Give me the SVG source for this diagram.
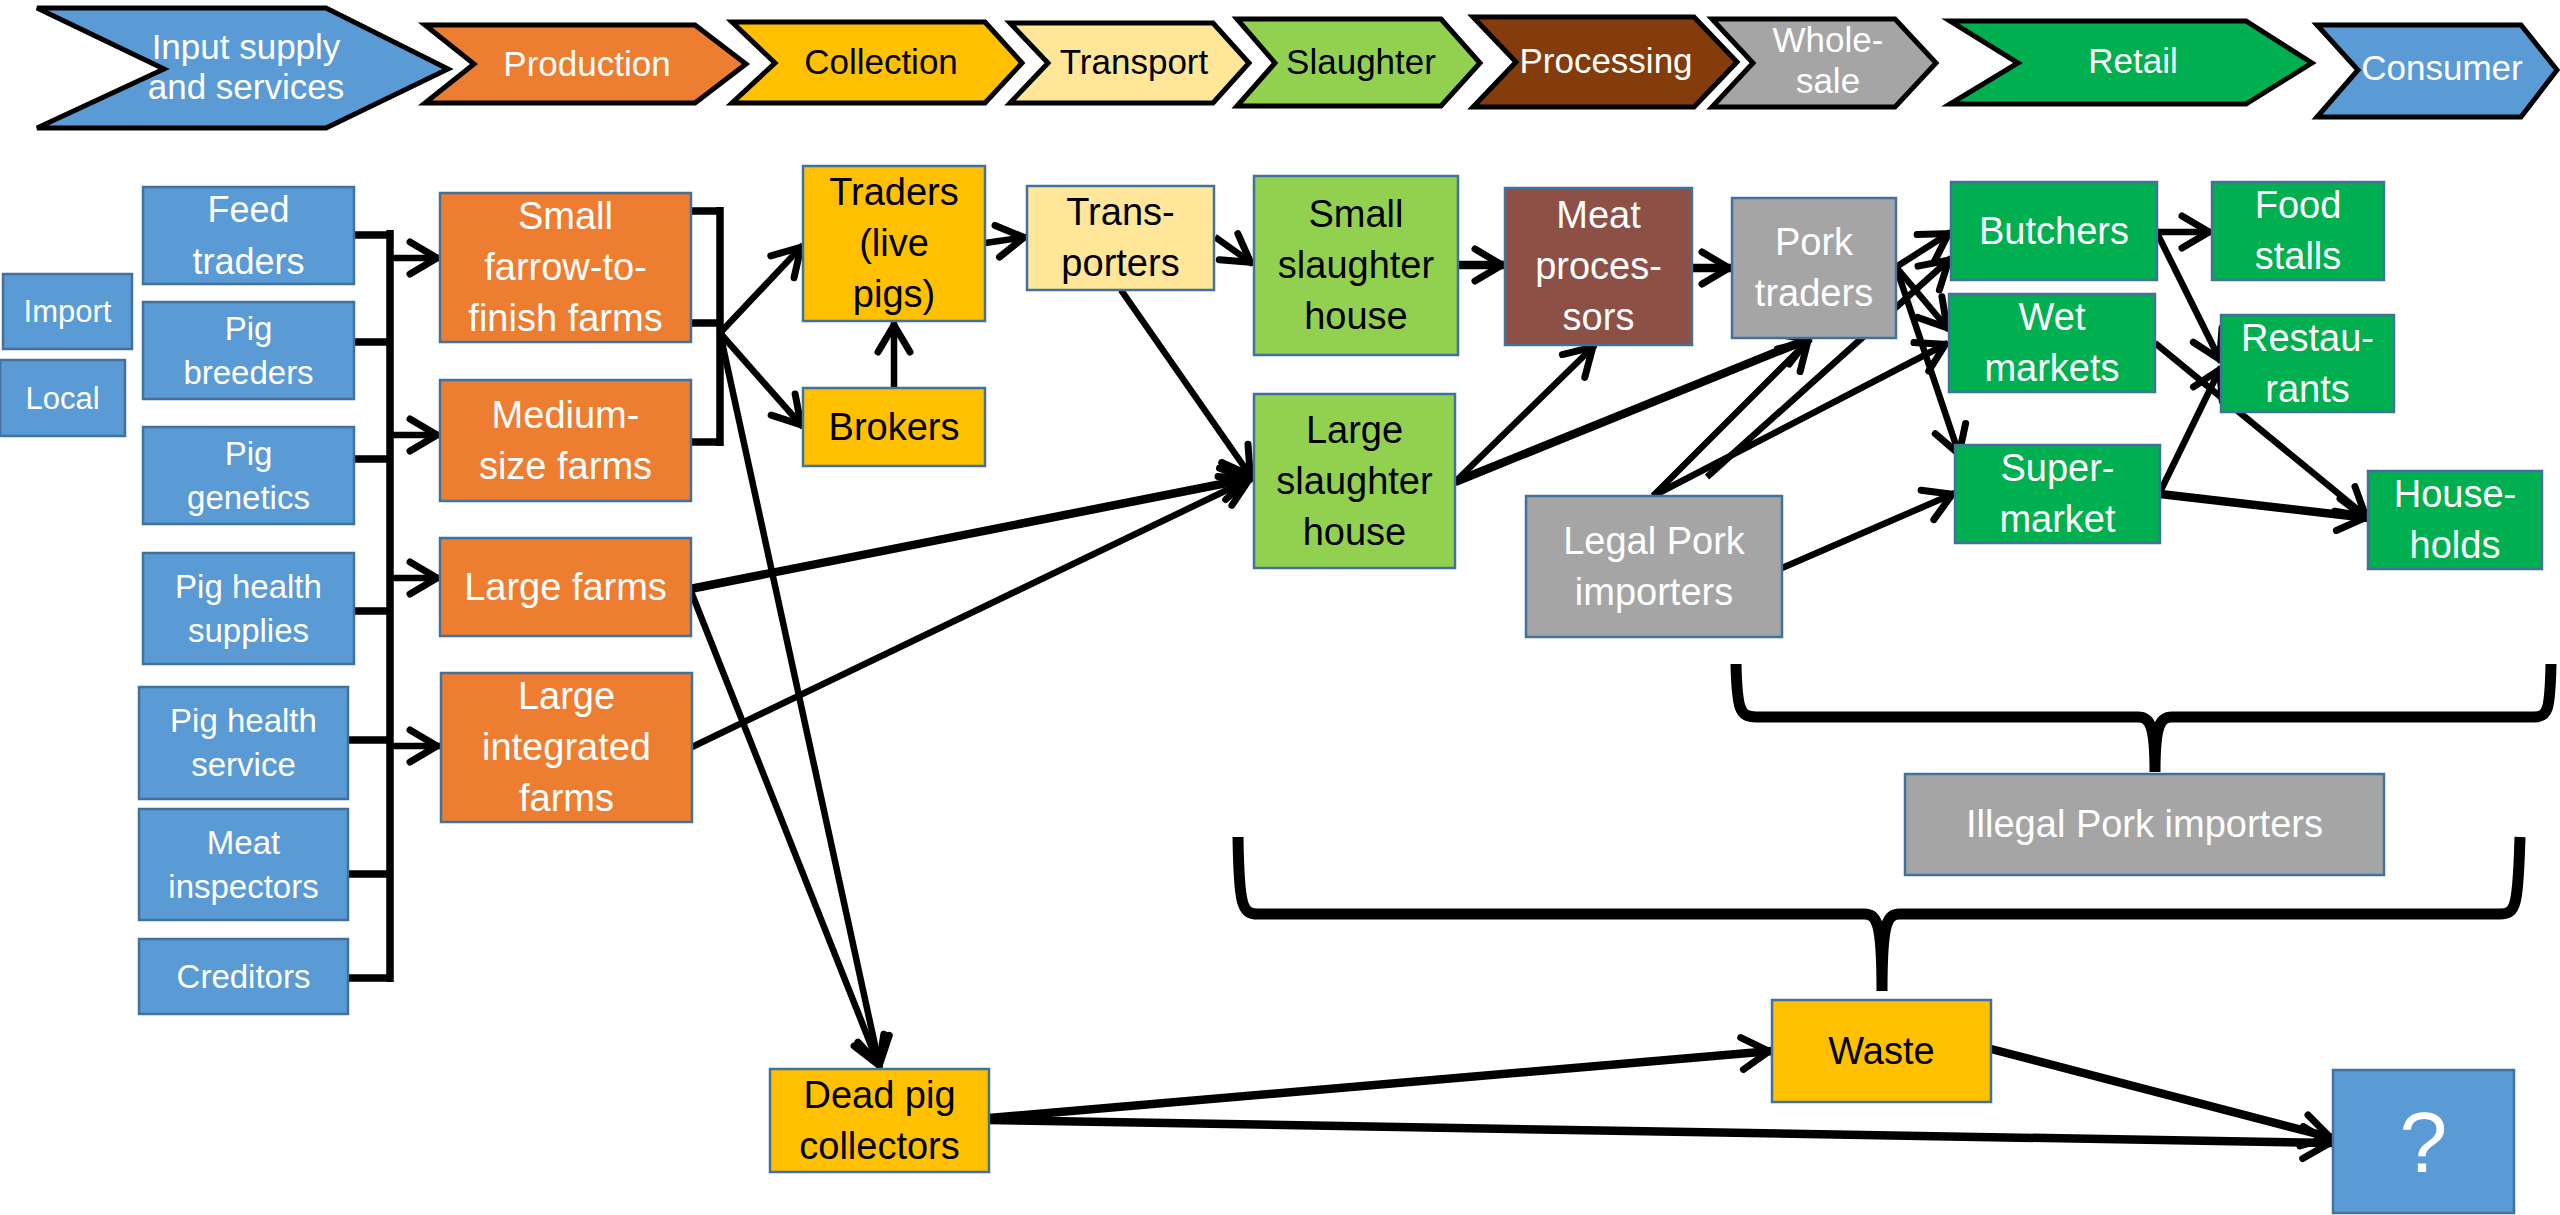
<svg xmlns="http://www.w3.org/2000/svg" width="2560" height="1215" viewBox="0 0 2560 1215">
  <style>
    text { font-family: "Liberation Sans", Arial, sans-serif; text-anchor: middle; }
    .chev { stroke: #000; stroke-width: 5; stroke-linejoin: miter; }
    .box { stroke: #41719C; stroke-width: 2.5; }
    .blue { fill: #5B9BD5; }
    .orange { fill: #ED7D31; }
    .gold { fill: #FFC000; }
    .pale { fill: #FFE699; }
    .lime { fill: #92D050; }
    .brown { fill: #843C0C; }
    .meat { fill: #8C5046; }
    .grey { fill: #A5A5A5; }
    .green { fill: #00B050; }
    .w { fill: #FFFFFF; }
    .k { fill: #000000; }
    .t38 { font-size: 38px; }
    .t36 { font-size: 36px; }
    .t33 { font-size: 33px; }
    .t31 { font-size: 31px; }
    .t35 { font-size: 35px; }
    .ln { stroke: #000; stroke-width: 6.5; fill: none; }
    .thick { stroke-width: 8.5; }
    .bus { stroke: #000; stroke-width: 7.5; fill: none; }
    .brace { stroke: #000; stroke-width: 11; fill: none; stroke-linejoin: round; }
  </style>
  <defs>
    <marker id="ah" markerUnits="userSpaceOnUse" markerWidth="60" markerHeight="60" viewBox="-40 -30 60 60" refX="0" refY="0" orient="auto" overflow="visible">
      <path d="M-30,-16 L-3,0 L-30,16" fill="none" stroke="#000" stroke-width="7" stroke-linecap="round" stroke-linejoin="miter"/>
    </marker>
  </defs>
  <rect width="2560" height="1215" fill="#FFFFFF"/>

  <!-- value chain stages -->
  <g id="stage-input">
    <polygon class="chev blue" points="37,8 326,8 448,69 326,128 37,128 164,69"/>
    <text class="t35 w"><tspan x="246" y="59">Input supply</tspan><tspan x="246" y="99">and services</tspan></text>
  </g>
  <g id="stage-production">
    <polygon class="chev orange" points="425,25 695,25 746,64 695,103 425,103 474,64"/>
    <text class="t35 w" x="587" y="76">Production</text>
  </g>
  <g id="stage-collection">
    <polygon class="chev gold" points="732,22 985,22 1022,63 985,103 732,103 775,63"/>
    <text class="t35 k" x="881" y="74">Collection</text>
  </g>
  <g id="stage-transport">
    <polygon class="chev pale" points="1010,23 1213,23 1249,63 1213,103 1010,103 1048,63"/>
    <text class="t35 k" x="1134" y="74">Transport</text>
  </g>
  <g id="stage-slaughter">
    <polygon class="chev lime" points="1237,19 1441,19 1480,63 1441,106 1237,106 1275,63"/>
    <text class="t35 k" x="1361" y="74">Slaughter</text>
  </g>
  <g id="stage-processing">
    <polygon class="chev brown" points="1473,17 1694,17 1737,62 1694,107 1473,107 1516,62"/>
    <text class="t35 w" x="1606" y="73">Processing</text>
  </g>
  <g id="stage-wholesale">
    <polygon class="chev grey" points="1712,19 1895,19 1936,63 1895,107 1712,107 1753,63"/>
    <text class="t35 w"><tspan x="1828" y="52">Whole-</tspan><tspan x="1828" y="93">sale</tspan></text>
  </g>
  <g id="stage-retail">
    <polygon class="chev green" points="1950,21 2246,21 2312,63 2246,104 1950,104 2018,63"/>
    <text class="t35 w" x="2133" y="73">Retail</text>
  </g>
  <g id="stage-consumer">
    <polygon class="chev blue" points="2317,25 2521,25 2557,70 2521,117 2317,117 2358,70"/>
    <text class="t35 w" x="2442" y="80">Consumer</text>
  </g>

  <!-- connectors -->
  <g id="connectors">
    <!-- input supply bus -->
    <path class="bus" d="M354,235 H393 M354,342 H393 M354,459 H393 M354,611 H393 M348,740 H393 M348,874 H393 M348,978 H393 M390,230 V982"/>
    <path class="ln" marker-end="url(#ah)" d="M392,258 H440"/>
    <path class="ln" marker-end="url(#ah)" d="M392,435 H440"/>
    <path class="ln" marker-end="url(#ah)" d="M392,578 H440"/>
    <path class="ln" marker-end="url(#ah)" d="M392,746 H440"/>
    <!-- small and medium farms bus -->
    <path class="bus" d="M691,211 H723 M691,323 H723 M691,442 H723 M720,207 V446"/>
    <path class="ln" marker-end="url(#ah)" d="M720,333 L803,245"/>
    <path class="ln" marker-end="url(#ah)" d="M720,333 L803,427"/>
    <path class="ln" marker-end="url(#ah)" d="M720,333 L880,1068"/>
    <!-- large farms -->
    <path class="ln thick" marker-end="url(#ah)" d="M690,589 L1252,478"/>
    <path class="ln" marker-end="url(#ah)" d="M690,589 L880,1068"/>
    <path class="ln" marker-end="url(#ah)" d="M692,747 L1252,478"/>
    <!-- collection and transport -->
    <path class="ln" marker-end="url(#ah)" d="M894,388 V322"/>
    <path class="ln" marker-end="url(#ah)" d="M985,243 L1027,237"/>
    <path class="ln" marker-end="url(#ah)" d="M1215,237 L1253,264"/>
    <path class="ln" marker-end="url(#ah)" d="M1121,290 L1252,478"/>
    <!-- slaughter and processing -->
    <path class="ln thick" marker-end="url(#ah)" d="M1458,265 H1505"/>
    <path class="ln" marker-end="url(#ah)" d="M1455,482 L1595,345"/>
    <path class="ln thick" marker-end="url(#ah)" d="M1455,482 L1811,338"/>
    <path class="ln thick" marker-end="url(#ah)" d="M1692,268 H1732"/>
    <!-- legal importers -->
    <path class="ln" marker-end="url(#ah)" d="M1653,496 L1810,339"/>
    <path class="ln" marker-end="url(#ah)" d="M1653,496 L1948,343"/>
    <path class="ln" marker-end="url(#ah)" d="M1707,477 L1951,258"/>
    <path class="ln" marker-end="url(#ah)" d="M1782,568 L1955,493"/>
    <!-- pork traders to retail -->
    <path class="ln" marker-end="url(#ah)" d="M1896,267 L1951,232"/>
    <path class="ln" marker-end="url(#ah)" d="M1896,267 L1949,330"/>
    <path class="ln" marker-end="url(#ah)" d="M1896,267 L1960,457"/>
    <!-- retail to consumers -->
    <path class="ln" marker-end="url(#ah)" d="M2157,232 H2212"/>
    <path class="ln" marker-end="url(#ah)" d="M2157,233 L2221,362"/>
    <path class="ln" marker-end="url(#ah)" d="M2155,343 L2368,518"/>
    <path class="ln" marker-end="url(#ah)" d="M2160,492 L2221,367"/>
    <path class="ln thick" marker-end="url(#ah)" d="M2160,494 L2368,518"/>
    <!-- waste flows -->
    <path class="ln thick" marker-end="url(#ah)" d="M989,1118 L1772,1051"/>
    <path class="ln thick" marker-end="url(#ah)" d="M989,1120 L2333,1143"/>
    <path class="ln thick" marker-end="url(#ah)" d="M1991,1049 L2333,1138"/>
    <!-- braces -->
    <path class="brace" d="M1736,664 C1737,710 1740,717 1756,717 L2138,717 C2150,717 2155,725 2155,772 M2155,772 C2155,725 2160,717 2172,717 L2534,717 C2548,717 2550,710 2551,664"/>
    <path class="brace" d="M1238,837 C1239,906 1242,914 1258,914 L1864,914 C1877,914 1882,922 1882,991 M1882,991 C1882,922 1887,914 1900,914 L2500,914 C2516,914 2518,906 2520,837"/>
  </g>

  <!-- input supply and services -->
  <g id="import"><rect class="box blue" x="3" y="274" width="129" height="75"/><text class="t31 w" x="67.5" y="322">Import</text></g>
  <g id="local"><rect class="box blue" x="0" y="360" width="125" height="76"/><text class="t31 w" x="62.5" y="409">Local</text></g>
  <g id="feed-traders"><rect class="box blue" x="143" y="187" width="211" height="97"/><text class="t36 w"><tspan x="248.5" y="222">Feed</tspan><tspan x="248.5" y="274">traders</tspan></text></g>
  <g id="pig-breeders"><rect class="box blue" x="143" y="302" width="211" height="97"/><text class="t33 w"><tspan x="248.5" y="340">Pig</tspan><tspan x="248.5" y="384">breeders</tspan></text></g>
  <g id="pig-genetics"><rect class="box blue" x="143" y="427" width="211" height="97"/><text class="t33 w"><tspan x="248.5" y="465">Pig</tspan><tspan x="248.5" y="509">genetics</tspan></text></g>
  <g id="pig-health-supplies"><rect class="box blue" x="143" y="553" width="211" height="111"/><text class="t33 w"><tspan x="248.5" y="598">Pig health</tspan><tspan x="248.5" y="642">supplies</tspan></text></g>
  <g id="pig-health-service"><rect class="box blue" x="139" y="687" width="209" height="112"/><text class="t33 w"><tspan x="243.5" y="732">Pig health</tspan><tspan x="243.5" y="776">service</tspan></text></g>
  <g id="meat-inspectors"><rect class="box blue" x="139" y="809" width="209" height="111"/><text class="t33 w"><tspan x="243.5" y="854">Meat</tspan><tspan x="243.5" y="898">inspectors</tspan></text></g>
  <g id="creditors"><rect class="box blue" x="139" y="939" width="209" height="75"/><text class="t33 w" x="243.5" y="988">Creditors</text></g>

  <!-- production -->
  <g id="small-farms"><rect class="box orange" x="440" y="193" width="251" height="149"/><text class="t38 w"><tspan x="565.5" y="229">Small</tspan><tspan x="565.5" y="280">farrow-to-</tspan><tspan x="565.5" y="331">finish farms</tspan></text></g>
  <g id="medium-farms"><rect class="box orange" x="440" y="380" width="251" height="121"/><text class="t38 w"><tspan x="565.5" y="428">Medium-</tspan><tspan x="565.5" y="479">size farms</tspan></text></g>
  <g id="large-farms"><rect class="box orange" x="440" y="538" width="251" height="98"/><text class="t38 w" x="565.5" y="600">Large farms</text></g>
  <g id="integrated-farms"><rect class="box orange" x="441" y="673" width="251" height="149"/><text class="t38 w"><tspan x="566.5" y="709">Large</tspan><tspan x="566.5" y="760">integrated</tspan><tspan x="566.5" y="811">farms</tspan></text></g>

  <!-- collection and transport -->
  <g id="live-pig-traders"><rect class="box gold" x="803" y="166" width="182" height="155"/><text class="t38 k"><tspan x="894" y="205">Traders</tspan><tspan x="894" y="256">(live</tspan><tspan x="894" y="307">pigs)</tspan></text></g>
  <g id="brokers"><rect class="box gold" x="803" y="388" width="182" height="78"/><text class="t38 k" x="894" y="440">Brokers</text></g>
  <g id="transporters"><rect class="box pale" x="1027" y="186" width="187" height="104"/><text class="t38 k"><tspan x="1120.5" y="225">Trans-</tspan><tspan x="1120.5" y="276">porters</tspan></text></g>
  <g id="dead-pig-collectors"><rect class="box gold" x="770" y="1069" width="219" height="103"/><text class="t38 k"><tspan x="879.5" y="1108">Dead pig</tspan><tspan x="879.5" y="1159">collectors</tspan></text></g>

  <!-- slaughter and processing -->
  <g id="small-slaughterhouse"><rect class="box lime" x="1254" y="176" width="204" height="179"/><text class="t38 k"><tspan x="1356" y="227">Small</tspan><tspan x="1356" y="278">slaughter</tspan><tspan x="1356" y="329">house</tspan></text></g>
  <g id="large-slaughterhouse"><rect class="box lime" x="1254" y="394" width="201" height="174"/><text class="t38 k"><tspan x="1354.5" y="443">Large</tspan><tspan x="1354.5" y="494">slaughter</tspan><tspan x="1354.5" y="545">house</tspan></text></g>
  <g id="meat-processors"><rect class="box meat" x="1505" y="188" width="187" height="157"/><text class="t38 w"><tspan x="1598.5" y="228">Meat</tspan><tspan x="1598.5" y="279">proces-</tspan><tspan x="1598.5" y="330">sors</tspan></text></g>

  <!-- wholesale -->
  <g id="pork-traders"><rect class="box grey" x="1732" y="198" width="164" height="140"/><text class="t38 w"><tspan x="1814" y="255">Pork</tspan><tspan x="1814" y="306">traders</tspan></text></g>
  <g id="legal-importers"><rect class="box grey" x="1526" y="496" width="256" height="141"/><text class="t38 w"><tspan x="1654" y="554">Legal Pork</tspan><tspan x="1654" y="605">importers</tspan></text></g>
  <g id="illegal-importers"><rect class="box grey" x="1905" y="774" width="479" height="101"/><text class="t38 w" x="2144.5" y="837">Illegal Pork importers</text></g>

  <!-- retail and consumers -->
  <g id="butchers"><rect class="box green" x="1951" y="182" width="206" height="98"/><text class="t38 w" x="2054" y="244">Butchers</text></g>
  <g id="food-stalls"><rect class="box green" x="2212" y="182" width="172" height="98"/><text class="t38 w"><tspan x="2298" y="218">Food</tspan><tspan x="2298" y="269">stalls</tspan></text></g>
  <g id="wet-markets"><rect class="box green" x="1949" y="294" width="206" height="98"/><text class="t38 w"><tspan x="2052" y="330">Wet</tspan><tspan x="2052" y="381">markets</tspan></text></g>
  <g id="restaurants"><rect class="box green" x="2221" y="315" width="173" height="97"/><text class="t38 w"><tspan x="2307.5" y="351">Restau-</tspan><tspan x="2307.5" y="402">rants</tspan></text></g>
  <g id="supermarket"><rect class="box green" x="1955" y="445" width="205" height="98"/><text class="t38 w"><tspan x="2057.5" y="481">Super-</tspan><tspan x="2057.5" y="532">market</tspan></text></g>
  <g id="households"><rect class="box green" x="2368" y="471" width="174" height="98"/><text class="t38 w"><tspan x="2455" y="507">House-</tspan><tspan x="2455" y="558">holds</tspan></text></g>

  <!-- waste -->
  <g id="waste"><rect class="box gold" x="1772" y="1000" width="219" height="102"/><text class="t38 k" x="1881.5" y="1064">Waste</text></g>
  <g id="unknown-destination"><rect class="box blue" x="2333" y="1070" width="181" height="143"/><text class="w" style="font-size:86px" x="2423.5" y="1172">?</text></g>
</svg>
